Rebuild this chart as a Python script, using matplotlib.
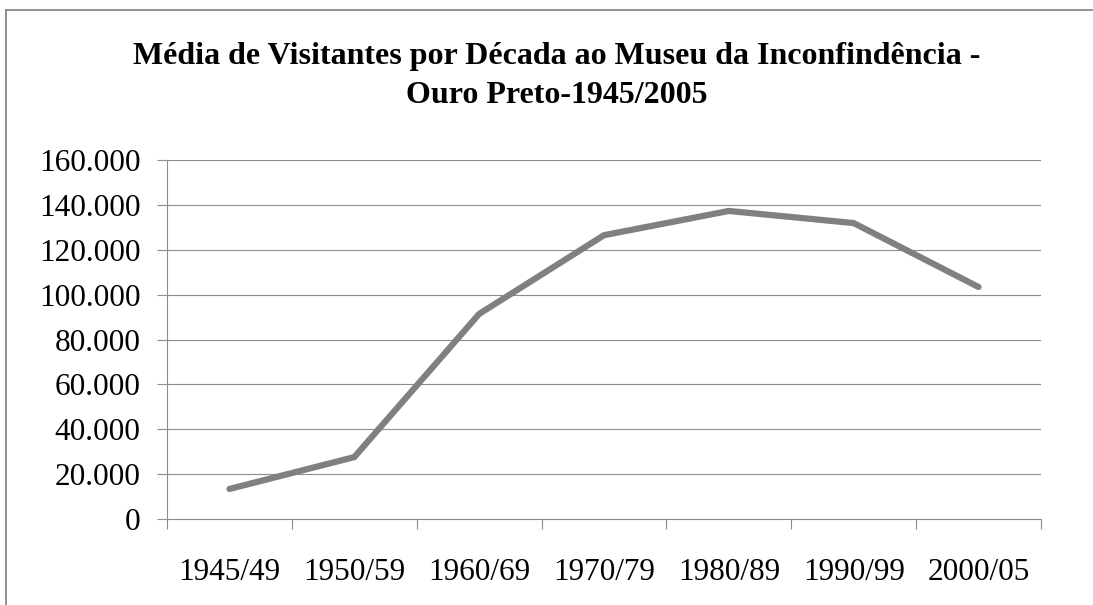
import matplotlib.pyplot as plt
from matplotlib.lines import Line2D
from matplotlib.ticker import FuncFormatter

# Data
periods = ['1945/49', '1950/59', '1960/69', '1970/79', '1980/89', '1990/99', '2000/05']
visitors = [13400, 27600, 91400, 126500, 137300, 131900, 103400]
yticks = [0, 20000, 40000, 60000, 80000, 100000, 120000, 140000, 160000]

plt.rcParams['font.family'] = ['Liberation Serif', 'DejaVu Serif']

fig = plt.figure(figsize=(10.93, 6.05), dpi=100)
ax = fig.add_axes([0.1528, 0.1421, 0.7996, 0.5934])

x = list(range(len(periods)))
ax.plot(x, visitors, color='#808080', linewidth=4.5, solid_capstyle='round',
        solid_joinstyle='miter', zorder=3)

ax.set_xlim(-0.5, len(periods) - 0.5)
ax.set_ylim(0, 160000)
ax.set_yticks(yticks)
ax.yaxis.set_major_formatter(FuncFormatter(lambda v, p: f'{int(v):,}'.replace(',', '.')))
ax.grid(axis='y', color='#8c8c8c', linewidth=0.8)

# category labels centred, ticks at the boundaries
ax.set_xticks([i - 0.5 for i in range(len(periods) + 1)])
ax.set_xticklabels([])
ax.set_xticks(x, minor=True)
ax.set_xticklabels(periods, minor=True)
ax.tick_params(axis='x', which='minor', length=0, pad=28, labelsize=22.5)
ax.tick_params(axis='x', which='major', length=7, color='#8c8c8c', width=0.8)
ax.tick_params(axis='y', length=7, color='#8c8c8c', width=0.8, labelsize=22.5, pad=12)

for s in ['top', 'right']:
    ax.spines[s].set_visible(False)
for s in ['left', 'bottom']:
    ax.spines[s].set_color('#8c8c8c')
    ax.spines[s].set_linewidth(0.8)

fig.text(0.509, 1 - 42 / 605, 'Média de Visitantes por Década ao Museu da Inconfindência -\nOuro Preto-1945/2005',
         ha='center', va='top', fontsize=23, fontweight='bold', linespacing=1.45)

# outer frame (top and left edges visible)
fig.add_artist(Line2D([6 / 1093, 1], [1 - 10 / 605, 1 - 10 / 605], color='#7f7f7f', linewidth=1.2))
fig.add_artist(Line2D([6 / 1093, 6 / 1093], [0, 1 - 10 / 605], color='#7f7f7f', linewidth=1.2))

fig.savefig('out.png', dpi=100)
